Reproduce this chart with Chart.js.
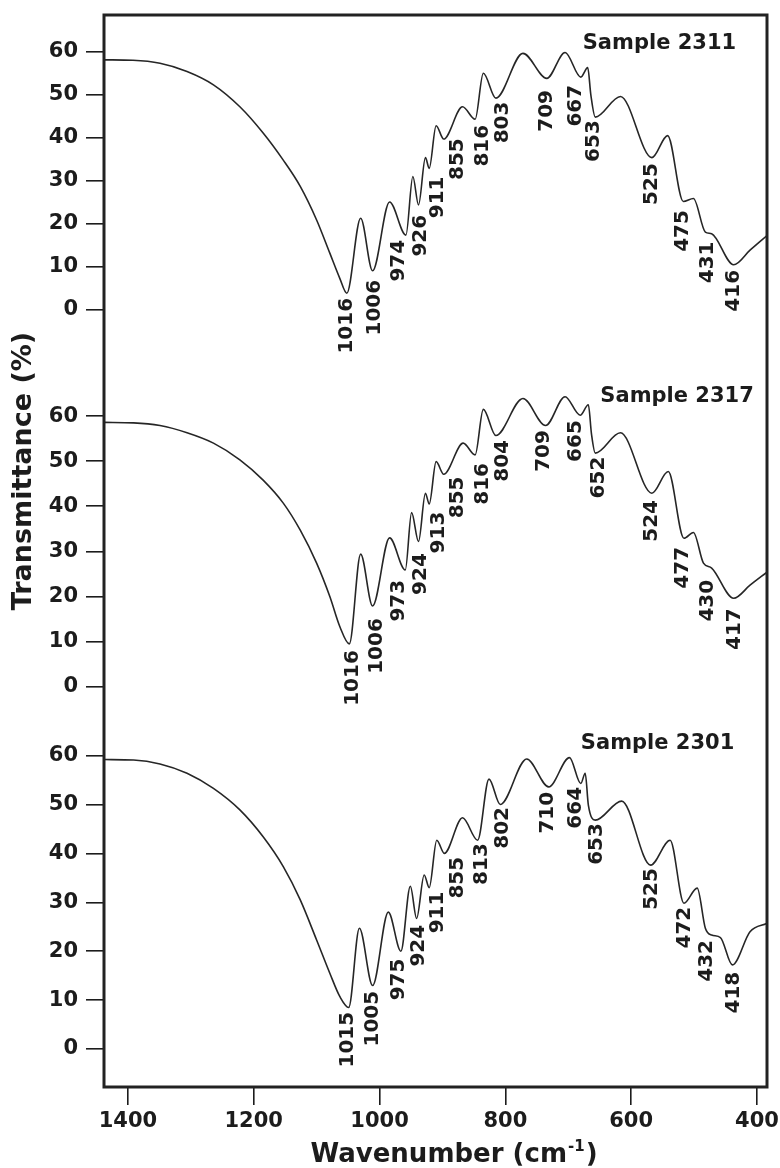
<!DOCTYPE html>
<html><head><meta charset="utf-8">
<script src="https://cdn.jsdelivr.net/npm/chart.js@4/dist/chart.umd.min.js"></script>
<style>html,body{margin:0;padding:0;background:#fff;}canvas{display:block;}</style>
</head><body>
<canvas id="c" width="780" height="1168"></canvas>
<script>
// ---- data ----
const xTicks = [1400, 1200, 1000, 800, 600, 400];
const yTicks = [0, 10, 20, 30, 40, 50, 60];
const sampleNames = ['Sample 2311', 'Sample 2317', 'Sample 2301'];

const wn2311 = [1437,1392,1349,1306,1264,1222,1185,1153,1126,1100,1079,1063,1052,1030,1011,984,958,947,938,927,921,910,898,868,848,835,815,772,734,705,680,669,664,657,617,567,542,517,501,482,472,437,411,384];
const t2311  = [58.1,58.0,57.3,55.4,52.3,47.2,41.1,34.8,28.7,20.9,13.2,7.3,3.9,21.3,9.1,25.1,17.4,31.0,24.4,35.4,32.9,42.8,39.7,47.2,44.3,55.0,49.2,59.6,53.8,59.8,54.1,56.3,49.9,44.8,49.6,35.4,40.5,25.2,25.9,18.1,17.7,10.5,13.9,17.3];

const wn2317 = [1437,1391,1349,1306,1264,1222,1185,1153,1126,1100,1079,1063,1048,1030,1011,984,959,949,938,927,921,910,898,867,848,835,815,772,736,705,681,668,663,657,617,567,541,516,501,485,472,437,411,384];
const t2317  = [58.6,58.5,57.9,56.3,54.0,50.3,45.8,40.7,34.7,27.4,20.0,13.3,9.5,29.4,17.9,33.0,25.9,38.6,32.2,42.9,40.5,49.9,47.1,54.0,51.4,61.5,55.7,63.9,57.9,64.3,60.2,62.5,56.0,51.8,56.3,42.9,47.7,32.9,34.2,27.4,26.3,19.6,22.5,25.4];

const wn2301 = [1437,1391,1349,1306,1264,1222,1185,1153,1126,1100,1079,1063,1049,1032,1011,986,966,951,941,929,921,909,897,868,844,826,808,766,731,698,680,673,668,657,615,569,538,516,495,482,472,458,439,411,384];
const t2301  = [59.2,59.1,58.3,56.4,53.3,48.9,43.4,37.3,30.5,22.3,15.5,10.7,8.5,24.7,13.0,28.0,20.0,33.3,26.7,35.6,33.0,42.7,40.0,47.3,42.7,55.2,50.0,59.3,53.6,59.6,54.3,56.4,49.9,46.8,50.7,37.6,42.7,29.8,32.9,24.7,23.3,22.8,17.2,24.0,25.7];

// peak labels (text) and where each sits (wavenumber on axis, transmittance at label top)
const peaks2311   = ['1016','1006','974','926','911','855','816','803','709','667','653','525','475','431','416'];
const peakWn2311  = [1052,1007,970,934,907,876,836,804,734,688,659,567,518,478,436];
const peakT2311   = [2.8,7.0,16.3,22.1,31.0,39.9,43.0,48.4,51.1,52.3,44.1,34.1,23.2,15.9,9.3];

const peaks2317   = ['1016','1006','973','924','913','855','816','804','709','665','652','524','477','430','417'];
const peakWn2317  = [1043,1004,969,934,905,876,836,804,739,688,652,567,518,478,435];
const peakT2317   = [8.1,15.2,23.7,29.6,38.8,46.6,49.6,54.7,56.9,59.1,51.0,41.4,31.0,23.7,17.4];

const peaks2301   = ['1015','1005','975','924','911','855','813','802','710','664','653','525','472','432','418'];
const peakWn2301  = [1051,1010,969,937,907,876,837,804,733,688,654,567,515,480,436];
const peakT2301   = [7.6,11.9,18.5,25.4,32.2,39.3,42.1,49.5,52.6,53.6,46.2,37.0,29.1,22.3,15.8];

const nameWn = [555, 527, 558];
const nameT  = [62.0, 64.3, 62.5];

// ---- chart ----
const FONT = 'DejaVu Sans';
const INK = '#1c1c1c';
const pts = (xs, ys) => xs.map((x, i) => ({x: x, y: ys[i]}));

function yAxis(min, max, weight) {
  return {
    type: 'linear', position: 'left', stack: 'ir', stackWeight: weight,
    min: min, max: max,
    afterBuildTicks: s => { s.ticks = yTicks.map(v => ({value: v})); },
    afterFit: s => { s.width = 104; s.paddingTop = 0; s.paddingBottom = 0; },
    grid: {drawOnChartArea: false, drawTicks: true, tickLength: 18, color: INK, lineWidth: 1.6},
    border: {display: false},
    ticks: {font: {family: FONT, size: 21, weight: 'bold'}, color: INK, padding: 8,
            callback: v => String(v)}
  };
}

const line = (data, axis) => ({
  data: data, yAxisID: axis, borderColor: '#262626', borderWidth: 1.6,
  pointRadius: 0, cubicInterpolationMode: 'monotone', fill: false
});

const panels = [
  {axis: 'y1', labels: peaks2311, wn: peakWn2311, t: peakT2311},
  {axis: 'y2', labels: peaks2317, wn: peakWn2317, t: peakT2317},
  {axis: 'y3', labels: peaks2301, wn: peakWn2301, t: peakT2301}
];

const annot = {
  id: 'annot',
  afterDatasetsDraw(chart) {
    const ctx = chart.ctx, xs = chart.scales.x, a = chart.chartArea;
    ctx.save();
    // frame
    ctx.strokeStyle = '#222'; ctx.lineWidth = 3;
    ctx.strokeRect(a.left, a.top, a.right - a.left, a.bottom - a.top);
    // peak labels
    ctx.fillStyle = INK;
    ctx.font = 'bold 20px "' + FONT + '"';
    panels.forEach(p => {
      const ys = chart.scales[p.axis];
      p.labels.forEach((txt, i) => {
        const x = xs.getPixelForValue(p.wn[i]);
        const y = ys.getPixelForValue(p.t[i]);
        ctx.save();
        ctx.translate(x, y);
        ctx.rotate(-Math.PI / 2);
        ctx.textAlign = 'right';
        ctx.textBaseline = 'middle';
        ctx.fillText(txt, 0, 0);
        ctx.restore();
      });
    });
    // sample names
    ctx.font = 'bold 21px "' + FONT + '"';
    ctx.textAlign = 'center'; ctx.textBaseline = 'middle';
    panels.forEach((p, i) => {
      const ys = chart.scales[p.axis];
      ctx.fillText(sampleNames[i], xs.getPixelForValue(nameWn[i]), ys.getPixelForValue(nameT[i]));
    });
    // y title
    ctx.save();
    ctx.font = 'bold 27px "' + FONT + '"';
    ctx.translate(24, 471);
    ctx.rotate(-Math.PI / 2);
    ctx.textAlign = 'center'; ctx.textBaseline = 'middle';
    ctx.fillText('Transmittance (%)', 0, 0);
    ctx.restore();
    // x title with superscript
    const main = 'Wavenumber (cm', sup = '-1', end = ')';
    ctx.textAlign = 'left'; ctx.textBaseline = 'alphabetic';
    ctx.font = 'bold 26px "' + FONT + '"';
    const w1 = ctx.measureText(main).width, w3 = ctx.measureText(end).width;
    ctx.font = 'bold 15px "' + FONT + '"';
    const w2 = ctx.measureText(sup).width;
    let x0 = 453 - (w1 + w2 + w3) / 2;
    const base = 1162;
    ctx.font = 'bold 26px "' + FONT + '"';
    ctx.fillText(main, x0, base);
    ctx.font = 'bold 15px "' + FONT + '"';
    ctx.fillText(sup, x0 + w1 + 1, base - 11);
    ctx.font = 'bold 26px "' + FONT + '"';
    ctx.fillText(end, x0 + w1 + w2 + 2, base);
    ctx.restore();
  }
};

new Chart(document.getElementById('c'), {
  type: 'line',
  data: {
    datasets: [
      line(pts(wn2311, t2311), 'y1'),
      line(pts(wn2317, t2317), 'y2'),
      line(pts(wn2301, t2301), 'y3')
    ]
  },
  options: {
    responsive: false,
    animation: false,
    layout: {padding: {top: 15, right: 13, left: 0, bottom: 0}},
    plugins: {legend: {display: false}, tooltip: {enabled: false}},
    scales: {
      x: {
        type: 'linear', reverse: true, min: 384, max: 1438,
        afterBuildTicks: s => { s.ticks = xTicks.map(v => ({value: v})); },
        afterFit: s => { s.height = 81; s.paddingLeft = 0; s.paddingRight = 0; },
        grid: {drawOnChartArea: false, drawTicks: true, tickLength: 18, color: INK, lineWidth: 1.6},
        border: {display: false},
        ticks: {font: {family: FONT, size: 21, weight: 'bold'}, color: INK, padding: 4, maxRotation: 0,
                callback: v => String(v)}
      },
      y3: yAxis(-7.77, 65.24, 357),
      y2: yAxis(-9.60, 70.22, 360),
      y1: yAxis(-13.94, 68.52, 355)
    }
  },
  plugins: [annot]
});
</script>
</body></html>
